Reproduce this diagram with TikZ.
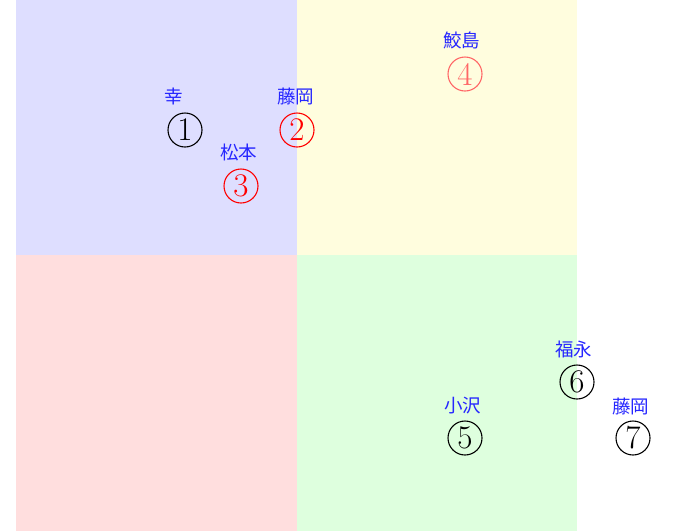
\documentclass[tikz,border=0pt]{standalone}
\usepackage{fontspec}
\newfontfamily\cjk{Noto Sans CJK JP}
\begin{document}
\begin{tikzpicture}[x=1pt,y=-1pt,
  lbl/.style={anchor=west,inner sep=0pt,text=blue!85!white,font=\cjk\fontsize{18.5}{18.5}\selectfont},
  num/.style={circle,draw=#1,text=#1,line width=1.1pt,minimum size=34pt,inner sep=0pt,font=\fontsize{33}{33}\selectfont},
  quad/.style={fill=#1!13!white,draw=none}]
\useasboundingbox (0,0) rectangle (677,531);
\fill[quad=blue] (16,0) rectangle (297,255);
\fill[quad=yellow] (297,0) rectangle (577,255);
\fill[quad=red] (16,255) rectangle (297,531);
\fill[quad=green] (297,255) rectangle (577,531);
% points
\node[num=black] (n1) at (185,130) {1};
\node[num=red] (n2) at (297,130) {2};
\node[num=red] (n3) at (241,186) {3};
\node[num=red!60!white] (n4) at (465,74) {4};
\node[num=black] (n5) at (465,438) {5};
\node[num=black] (n6) at (577,382) {6};
\node[num=black] (n7) at (633,438) {7};
% labels
\node[lbl] (l1) at (164,96) {幸};
\node[lbl] (l2) at (277,96) {藤岡};
\node[lbl] (l3) at (220,152) {松本};
\node[lbl] (l4) at (443,40) {鮫島};
\node[lbl] (l5) at (444,406) {小沢};
\node[lbl] (l6) at (555,349) {福永};
\node[lbl] (l7) at (612,406) {藤岡};
\end{tikzpicture}
\end{document}
